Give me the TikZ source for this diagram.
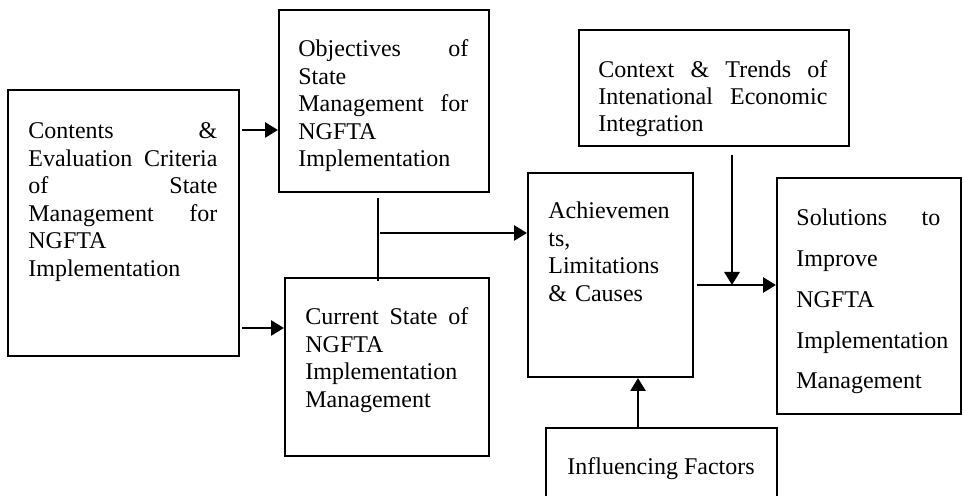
\documentclass[tikz,border=0pt]{standalone}
\usepackage{fontspec}
\setmainfont{Liberation Serif}
\usetikzlibrary{arrows.meta}
\tikzset{
  box/.style={draw,line width=1pt,anchor=north west,inner sep=0pt},
  boxtext/.style={anchor=base west,inner sep=0pt,font=\fontsize{12pt}{13.75pt}\selectfont},
  arr/.style={line width=1.4pt,-{Triangle[length=6.5pt,width=7.5pt]}},
}
\begin{document}
\begin{tikzpicture}[x=0.5pt,y=-0.5pt]
		\useasboundingbox (0,0) rectangle (964,496);
		\clip (0,0) rectangle (964,496);
		% boxes
		\node[box,minimum width=115.5pt,minimum height=133pt] (cont) at (7,89) {};
		\node[box,minimum width=105pt,minimum height=91pt] (obj) at (278,9) {};
		\node[box,minimum width=102pt,minimum height=89pt] (cur) at (284,277) {};
		\node[box,minimum width=82.5pt,minimum height=102pt] (ach) at (527,172) {};
		\node[box,minimum width=135pt,minimum height=58pt] (ctx) at (578,29) {};
		\node[box,minimum width=92pt,minimum height=118pt] (sol) at (776,177) {};
		\node[box,minimum width=115.5pt,minimum height=60pt] (inf) at (545,427) {};
		% texts
		\node[boxtext,text width=94.5pt] (cont-t) at (28,139)
			{Contents\hfill\&\\ Evaluation\hfill Criteria\\ of\hfill State\\ Management\hfill for\\ NGFTA\\ Implementation};
		\node[boxtext,text width=85pt] (obj-t) at (298,57)
			{Objectives\hfill of\\ State\\ Management\hfill for\\ NGFTA\\ Implementation};
		\node[boxtext,text width=81.5pt] (cur-t) at (305,325)
			{Current\hfill State\hfill of\\ NGFTA\\ Implementation\\ Management};
		\node[boxtext,text width=62pt] (ach-t) at (548,219)
			{Achievemen\\ ts,\\ Limitations\\ \& Causes};
		\node[boxtext,text width=114.5pt,font=\fontsize{12pt}{13.5pt}\selectfont] (ctx-t) at (598,78)
			{Context\hfill\&\hfill Trends\hfill of\\ Intenational\hfill Economic\\ Integration};
		\node[boxtext,text width=72pt,font=\fontsize{12pt}{20.35pt}\selectfont] (sol-t) at (796,226)
			{Solutions\hfill to\\ Improve\\ NGFTA\\ Implementation\\ Management};
		\node[boxtext] (inf-t) at (567,475) {Influencing Factors};
		% connectors
		\coordinate (a1) at (242,130);
		\coordinate (a2) at (242,328);
		\draw[arr] (a1) -- (a1 -| obj.west);
		\draw[arr] (a2) -- (a2 -| cur.west);
		\coordinate (j1) at (378,198);
		\coordinate (j2) at (378,281);
		\coordinate (j3) at (380,233);
		\draw[line width=0.6pt] (j1) -- (j2);
		\draw[arr] (j3) -- (j3 -| ach.west);
		\coordinate (d1) at (732,155);
		\coordinate (d2) at (697,285);
		\draw[arr] (d1) -- (d1 |- d2);
		\draw[arr] (d2) -- (d2 -| sol.west);
		\coordinate (u1) at (638,427);
		\draw[arr] (u1) -- (u1 |- ach.south);
\end{tikzpicture}
\end{document}
